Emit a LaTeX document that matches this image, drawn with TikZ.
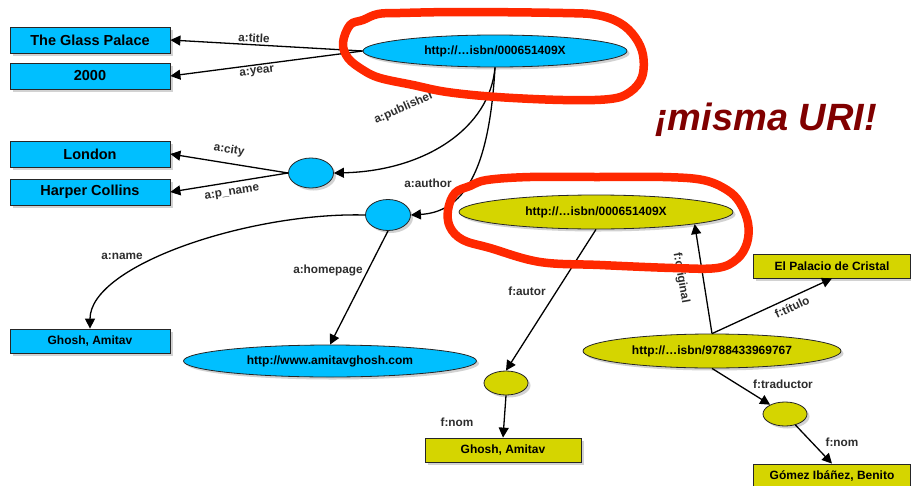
\documentclass[tikz,border=0pt]{standalone}
\usepackage{fontspec}
\setmainfont{Liberation Sans}
\usetikzlibrary{shapes.geometric,arrows.meta,shadows}

\definecolor{skyfill}{RGB}{0,191,255}
\definecolor{olivefill}{RGB}{213,213,0}
\definecolor{ringred}{RGB}{255,40,0}
\definecolor{titlered}{RGB}{128,0,0}
\definecolor{lblgray}{RGB}{45,45,45}

\tikzset{
  softshadow/.style={drop shadow={shadow xshift=2.5pt,shadow yshift=-2.5pt,opacity=0.35}},
  bigtext/.style={font=\bfseries\fontsize{14.5}{16}\selectfont},
  midtext/.style={font=\bfseries\fontsize{12}{14}\selectfont},
  litbox/.style={rectangle,draw=black!85,line width=0.8pt,inner sep=0pt,softshadow},
  resnode/.style={ellipse,draw=black!85,line width=0.8pt,inner sep=0pt,softshadow,midtext},
  bluefill/.style={fill=skyfill},
  olive/.style={fill=olivefill},
  arc/.style={line width=1.3pt,-{Triangle[length=10pt,width=10pt]}},
  lbl/.style={text=lblgray,font=\bfseries\fontsize{11.8}{13}\selectfont,inner sep=0pt},
  ring/.style={draw=ringred,line width=8.5pt,line join=round,line cap=round}
}

\begin{document}
\begin{tikzpicture}[x=1pt,y=-1pt]
\useasboundingbox[fill=white] (0,0) rectangle (911,485);

% --- English description (blue) ---
\node[litbox,bluefill,bigtext,minimum width=160,minimum height=26] (glass)  at (90,40)  {The Glass Palace};
\node[litbox,bluefill,bigtext,minimum width=160,minimum height=26] (year)   at (90,76)  {2000};
\node[litbox,bluefill,bigtext,minimum width=160,minimum height=26] (london) at (90,154) {London};
\node[litbox,bluefill,bigtext,minimum width=160,minimum height=26] (harper) at (90,192) {Harper Collins};
\node[litbox,bluefill,midtext,minimum width=160,minimum height=24] (ghoshA) at (90,341) {Ghosh, Amitav};

\node[resnode,bluefill,minimum width=264,minimum height=32] (book1) at (495,51) {http://…isbn/000651409X};
\node[resnode,bluefill,minimum width=45,minimum height=30] (pub)  at (311,173) {};
\node[resnode,bluefill,minimum width=45,minimum height=31] (auth) at (388,215) {};
\node[resnode,bluefill,minimum width=293,minimum height=32] (home) at (330,361) {http://www.amitavghosh.com};

% --- Spanish description (olive) ---
\node[resnode,olive,minimum width=274,minimum height=34] (book2)  at (596,212) {http://…isbn/000651409X};
\node[resnode,olive,minimum width=258,minimum height=34] (bookes) at (712,351) {http://…isbn/9788433969767};
\node[resnode,olive,minimum width=44,minimum height=24] (autorY) at (506,383) {};
\node[resnode,olive,minimum width=44,minimum height=24] (trad)   at (785,414) {};
\node[litbox,olive,midtext,minimum width=156,minimum height=24] (ghoshY)  at (503,450) {Ghosh, Amitav};
\node[litbox,olive,midtext,minimum width=157,minimum height=24] (palacio) at (832,266) {El Palacio de Cristal};
\node[litbox,olive,midtext,minimum width=157,minimum height=24] (gomez)   at (832,476) {Gómez Ibáñez, Benito};

% --- properties ---
\draw[arc] (book1.west) -- (glass.east);
\draw[arc] (book1.west) -- (year.east);
\draw[arc] (book1.south) .. controls (490,128) and (425,171) .. (pub.east);
\draw[arc] (book1.south) .. controls (489,175) and (462,212) .. (auth.east);
\draw[arc] (pub.west) -- (london.east);
\draw[arc] (pub.west) -- (harper.east);
\draw[arc] (auth.west) .. controls (250,212) and (90,265) .. (ghoshA.north);
\draw[arc] (auth.south) -- (home.north);

\draw[arc] (book2.south) -- (autorY.north);
\draw[arc] (autorY.south) -- (ghoshY.north);
\draw[arc] (bookes.north) -- (book2.-7);
\draw[arc] (bookes.north) -- (palacio.south);
\draw[arc] (bookes.south) -- (trad);
\draw[arc] (trad) -- (gomez.north);

% --- property labels ---
\node[lbl,rotate=-3] (ltitle) at (254,38)  {a:title};
\node[lbl,rotate=7]  (lyear)  at (257,72)  {a:year};
\node[lbl,rotate=24] (lpub)   at (404,108) {a:publisher};
\node[lbl,rotate=-9] (lcity)  at (229,150) {a:city};
\node[lbl,rotate=9]  (lpname) at (232,193) {a:p\_name};
\node[lbl] (lauthor) at (428,183) {a:author};
\node[lbl] (lname)   at (122,256) {a:name};
\node[lbl] (lhome)   at (328,270) {a:homepage};

\node[lbl] (lautor) at (527,291) {f:autor};
\node[lbl] (lnom1)  at (457,422) {f:nom};
\node[lbl,rotate=-80] (lorig) at (681,278) {f:original};
\node[lbl,rotate=25]  (ltit)  at (792,307) {f:título};
\node[lbl] (ltrad) at (783,384) {f:traductor};
\node[lbl] (lnom2) at (842,442) {f:nom};

% --- hand-drawn highlight rings ---
\draw[ring] plot[smooth cycle,tension=0.6] coordinates {
  (343,43) (350,25) (363,20) (378,14) (400,13) (463,12) (563,13) (597,15)
  (620,23) (635,37) (643,55) (642,77) (630,92) (610,99) (563,100)
  (497,97) (447,92) (413,85) (380,78) (363,70) (348,58)};
\draw[ring] plot[smooth cycle,tension=0.6] coordinates {
  (448,210) (455,193) (470,186) (487,180) (530,177) (597,177) (663,177)
  (703,180) (727,190) (740,203) (748,223) (747,243) (737,259) (717,268)
  (673,268) (600,265) (540,262) (490,248) (463,240) (450,227)};

% --- remark ---
\node[anchor=base west,inner sep=0pt,text=titlered,font=\bfseries\itshape\fontsize{38}{41}\selectfont] (same) at (655,130) {¡misma URI!};
\end{tikzpicture}
\end{document}
